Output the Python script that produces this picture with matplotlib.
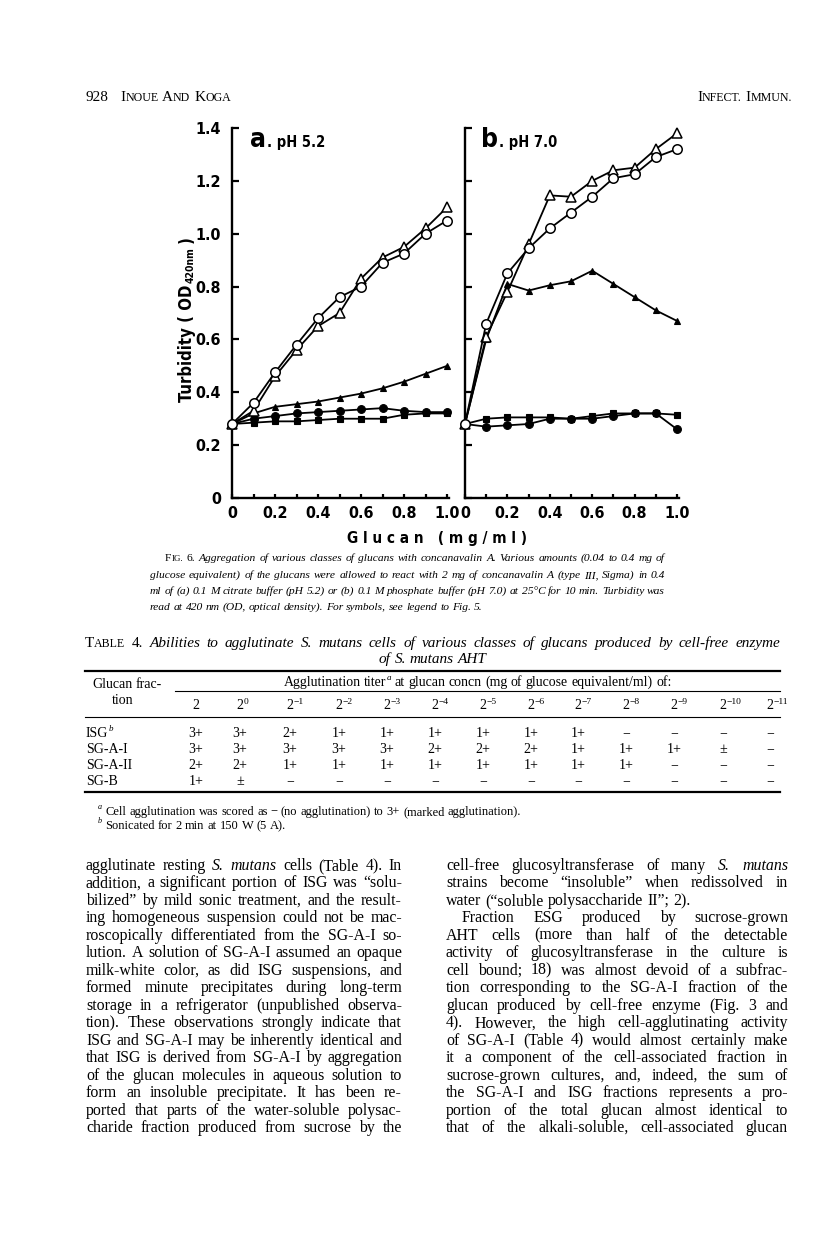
import re
import matplotlib
matplotlib.use("Agg")
import matplotlib.pyplot as plt

# ---------------- data ----------------
glucan = [0.0, 0.1, 0.2, 0.3, 0.4, 0.5, 0.6, 0.7, 0.8, 0.9, 1.0]

# panel a, pH 5.2
a_open_circle = [0.28, 0.36, 0.475, 0.58, 0.68, 0.76, 0.80, 0.89, 0.925, 1.00, 1.05]
a_open_tri = [0.28, 0.33, 0.46, 0.56, 0.65, 0.70, 0.83, 0.91, 0.95, 1.02, 1.10]
a_filled_tri = [0.28, 0.32, 0.345, 0.355, 0.365, 0.38, 0.395, 0.415, 0.44, 0.47, 0.50]
a_filled_circle = [0.28, 0.30, 0.31, 0.32, 0.325, 0.33, 0.335, 0.34, 0.33, 0.325, 0.325]
a_filled_square = [0.28, 0.285, 0.29, 0.29, 0.295, 0.30, 0.30, 0.30, 0.315, 0.32, 0.32]

# panel b, pH 7.0
b_open_circle = [0.28, 0.66, 0.85, 0.945, 1.02, 1.08, 1.14, 1.21, 1.225, 1.29, 1.32]
b_open_tri = [0.28, 0.61, 0.78, 0.96, 1.145, 1.14, 1.20, 1.24, 1.25, 1.32, 1.38]
b_filled_tri = [0.28, 0.60, 0.81, 0.785, 0.805, 0.82, 0.86, 0.81, 0.76, 0.71, 0.67]
b_filled_circle = [0.28, 0.27, 0.275, 0.28, 0.30, 0.30, 0.30, 0.31, 0.32, 0.32, 0.26]
b_filled_square = [0.28, 0.30, 0.305, 0.305, 0.305, 0.30, 0.31, 0.32, 0.32, 0.32, 0.315]

y_ticks = [0, 0.2, 0.4, 0.6, 0.8, 1.0, 1.2, 1.4]
y_ticklabels = ["0", "0.2", "0.4", "0.6", "0.8", "1.0", "1.2", "1.4"]
x_ticks = [0, 0.2, 0.4, 0.6, 0.8, 1.0]
x_ticklabels = ["0", "0.2", "0.4", "0.6", "0.8", "1.0"]
x_minor = [0.1, 0.3, 0.5, 0.7, 0.9]

# table 4
table_columns = ["", "0", "−1", "−2", "−3", "−4", "−5", "−6", "−7", "−8", "−9", "−10", "−11"]
table_rows = ["ISG", "SG-A-I", "SG-A-II", "SG-B"]
table_row_sup = ["b", "", "", ""]
table_values = [
    ["3+", "3+", "2+", "1+", "1+", "1+", "1+", "1+", "1+", "−", "−", "−", "−"],
    ["3+", "3+", "3+", "3+", "3+", "2+", "2+", "2+", "1+", "1+", "1+", "±", "−"],
    ["2+", "2+", "1+", "1+", "1+", "1+", "1+", "1+", "1+", "1+", "−", "−", "−"],
    ["1+", "±", "−", "−", "−", "−", "−", "−", "−", "−", "−", "−", "−"],
]

caption_lines = [
    "~FIG.~ #6.# Aggregation of various classes of glucans with concanavalin A. Various amounts (0.04 to 0.4 mg of",
    "glucose equivalent) of the glucans were allowed to react with 2 mg of concanavalin A (type III, Sigma) in 0.4",
    "ml of (a) 0.1 M citrate buffer (pH 5.2) or (b) 0.1 M phosphate buffer (pH 7.0) at 25°C for 10 min. Turbidity was",
    "read at 420 nm (OD, optical density). For symbols, see legend to Fig. 5.",
]
table_title_lines = [
    "~TABLE~ #4.# Abilities to agglutinate S. mutans cells of various classes of glucans produced by cell-free enzyme",
    "of S. mutans AHT",
]
footnotes = [
    "^a^ Cell agglutination was scored as − (no agglutination) to 3+ (marked agglutination).",
    "^b^ Sonicated for 2 min at 150 W (5 A).",
]
left_col = [
    "agglutinate resting *S.* *mutans* cells (Table 4). In",
    "addition, a significant portion of ISG was “solu-",
    "bilized” by mild sonic treatment, and the result-",
    "ing homogeneous suspension could not be mac-",
    "roscopically differentiated from the SG-A-I so-",
    "lution. A solution of SG-A-I assumed an opaque",
    "milk-white color, as did ISG suspensions, and",
    "formed minute precipitates during long-term",
    "storage in a refrigerator (unpublished observa-",
    "tion). These observations strongly indicate that",
    "ISG and SG-A-I may be inherently identical and",
    "that ISG is derived from SG-A-I by aggregation",
    "of the glucan molecules in aqueous solution to",
    "form an insoluble precipitate. It has been re-",
    "ported that parts of the water-soluble polysac-",
    "charide fraction produced from sucrose by the",
]
right_col = [
    "cell-free glucosyltransferase of many *S.* *mutans*",
    "strains become “insoluble” when redissolved in",
    "water (“soluble polysaccharide II”; 2).",
    "Fraction ESG produced by sucrose-grown",
    "AHT cells (more than half of the detectable",
    "activity of glucosyltransferase in the culture is",
    "cell bound; 18) was almost devoid of a subfrac-",
    "tion corresponding to the SG-A-I fraction of the",
    "glucan produced by cell-free enzyme (Fig. 3 and",
    "4). However, the high cell-agglutinating activity",
    "of SG-A-I (Table 4) would almost certainly make",
    "it a component of the cell-associated fraction in",
    "sucrose-grown cultures, and, indeed, the sum of",
    "the SG-A-I and ISG fractions represents a pro-",
    "portion of the total glucan almost identical to",
    "that of the alkali-soluble, cell-associated glucan",
]

# ---------------- figure ----------------
W, H = 816, 1249
fig = plt.figure(figsize=(W / 100, H / 100), dpi=100)
fig.patch.set_facecolor("white")
renderer = fig.canvas.get_renderer()

CHART_FONT = ["DejaVu Sans"]
CHART_KW = dict(family=CHART_FONT, weight="bold", stretch="condensed")
SERIF = ["Liberation Serif", "DejaVu Serif"]


def fx(x):
    return x / W


def fy(y):
    return 1 - y / H


# ---------- text helpers ----------
def parse(line, default):
    """Return list of words; each word is a list of (text, style)."""
    words = []
    for w in line.split(" "):
        segs = []
        for part in re.split(r"(\*[^*]+\*|#[^#]+#|~[^~]+~|\^[^^]+\^)", w):
            if not part:
                continue
            if part.startswith("*"):
                segs.append((part[1:-1], "i" if default == "n" else "n"))
            elif part.startswith("#"):
                segs.append((part[1:-1], "n"))
            elif part.startswith("~"):
                segs.append((part[1:-1], "sc"))
            elif part.startswith("^"):
                segs.append((part[1:-1], "sup"))
            else:
                segs.append((part, default))
        words.append(segs)
    return words


def make_word(segs, size, family):
    arts = []
    for text, style in segs:
        if style == "sc":
            arts.append((fig.text(0, 0, text[0], size=size, family=family), 0))
            arts.append((fig.text(0, 0, text[1:].upper(), size=size * 0.78, family=family), 0))
        elif style == "sup":
            arts.append((fig.text(0, 0, text, size=size * 0.65, family=family, style="italic"), size * 0.45))
        else:
            arts.append((fig.text(0, 0, text, size=size, family=family,
                                  style="italic" if style == "i" else "normal"), 0))
    widths = [a.get_window_extent(renderer).width for a, _ in arts]
    return arts, widths


def word_width(segs, size, family):
    arts, widths = make_word(segs, size, family)
    for a, _ in arts:
        a.remove()
    return sum(widths)


def space_width(size):
    return size * 100 / 72 * 0.25


def fit_size(lines, default, width, family, base=10.0, maxsize=11.0):
    best = 0
    for line in lines:
        words = parse(line, default)
        tot = sum(word_width(w, base, family) for w in words) + space_width(base) * (len(words) - 1)
        best = max(best, tot)
    return min(maxsize, base * width / best * 0.995)


def draw_line(line, default, x0, x1, y, size, family, justify=True, indent=0, center=False):
    words = parse(line, default)
    built = [make_word(w, size, family) for w in words]
    total = sum(sum(ws) for _, ws in built)
    sp = space_width(size)
    x0 = x0 + indent
    if justify and len(words) > 1:
        gap = (x1 - x0 - total) / (len(words) - 1)
    else:
        gap = sp
    if center:
        linew = total + gap * (len(words) - 1)
        x = (x0 + x1) / 2 - linew / 2
    else:
        x = x0
    for arts, ws in built:
        for (a, dy), w in zip(arts, ws):
            a.set_position((fx(x), fy(y - dy * 100 / 72)))
            a.set_verticalalignment("baseline")
            x += w
        x += gap


# ---------------- header ----------------
fig.text(fx(86), fy(101), "928", size=11, family=SERIF, va="baseline")
draw_line("~INOUE~ ~AND~ ~KOGA~", "n", 120, 240, 101, 11, SERIF, justify=False)
draw_line("~INFECT.~ ~IMMUN.~", "n", 697, 790, 101, 11, SERIF, justify=False)

# ---------------- chart ----------------
axa = fig.add_axes([fx(232), fy(498), (449 - 232) / W, (498 - 128) / H])
axb = fig.add_axes([fx(465), fy(498), (679 - 465) / W, (498 - 128) / H])

series = [
    ("open_circle", dict(marker="o", mfc="white", mec="black", ms=6.8, mew=1.1)),
    ("open_tri", dict(marker="^", mfc="white", mec="black", ms=6.5, mew=1.1)),
    ("filled_tri", dict(marker="^", mfc="black", mec="black", ms=5.0, mew=0.8)),
    ("filled_circle", dict(marker="o", mfc="black", mec="black", ms=5.6, mew=0.8)),
    ("filled_square", dict(marker="s", mfc="black", mec="black", ms=4.6, mew=0.8)),
]
data_a = dict(open_circle=a_open_circle, open_tri=a_open_tri, filled_tri=a_filled_tri,
              filled_circle=a_filled_circle, filled_square=a_filled_square)
data_b = dict(open_circle=b_open_circle, open_tri=b_open_tri, filled_tri=b_filled_tri,
              filled_circle=b_filled_circle, filled_square=b_filled_square)

for ax, data, show_y in ((axa, data_a, True), (axb, data_b, False)):
    for key, style in reversed(series):
        ax.plot(glucan, data[key], color="black", lw=1.3, clip_on=False, zorder=3, **style)
    ax.set_xlim(0, 1.0093)
    ax.set_ylim(0, 1.4)
    ax.set_facecolor("none")
    for s in ("top", "right"):
        ax.spines[s].set_visible(False)
    for s in ("left", "bottom"):
        ax.spines[s].set_linewidth(1.7)
    ax.set_yticks(y_ticks)
    ax.set_yticklabels(y_ticklabels if show_y else [])
    ax.set_xticks(x_ticks)
    ax.set_xticklabels(x_ticklabels)
    ax.set_xticks(x_minor, minor=True)
    ax.tick_params(axis="y", direction="in", length=5, width=1.6, pad=8)
    ax.tick_params(axis="x", which="both", direction="in", length=3, width=1.6, pad=6)
    for lab in ax.get_xticklabels() + ax.get_yticklabels():
        lab.set_family(CHART_FONT)
        lab.set_fontweight("bold")
        lab.set_fontstretch("condensed")
        lab.set_fontsize(11.5)

# panel titles
for (x, letter, rest) in ((250, "a", ". pH 5.2"), (481, "b", ". pH 7.0")):
    t1 = fig.text(fx(x), fy(147), letter, size=19, va="baseline", **CHART_KW)
    w = t1.get_window_extent(renderer).width
    fig.text(fx(x + w + 1), fy(147), rest, size=10.5, va="baseline", **CHART_KW)

# y label (rotated, built from pieces)
ybot = 402
t1 = fig.text(fx(187), fy(ybot), "Turbidity ( OD", size=12, rotation=90, ha="center", va="bottom",
              **CHART_KW)
h1 = t1.get_window_extent(renderer).height
t2 = fig.text(fx(191), fy(ybot - h1 - 2), "420nm", size=7.5, rotation=90, ha="center", va="bottom",
              **CHART_KW)
h2 = t2.get_window_extent(renderer).height
fig.text(fx(187), fy(ybot - h1 - h2 - 6), ")", size=12, rotation=90, ha="center", va="bottom",
         **CHART_KW)

# x label
fig.text(fx(437), fy(538), "G l u c a n   ( m g / m l )", size=11, ha="center", va="center",
         **CHART_KW)

# ---------------- caption ----------------
cap_size = fit_size(caption_lines[1:3], "i", 515, SERIF, base=10, maxsize=10.5)
cap_y = [561, 578, 594, 610]
for i, line in enumerate(caption_lines):
    draw_line(line, "i", 150, 665, cap_y[i], cap_size, SERIF,
              justify=(i < 3), indent=(15 if i == 0 else 0))

# ---------------- table ----------------
tt_size = fit_size(table_title_lines[:1], "i", 695, SERIF, base=10, maxsize=11)
draw_line(table_title_lines[0], "i", 85, 780, 647, tt_size, SERIF, justify=True)
draw_line(table_title_lines[1], "i", 85, 780, 663, tt_size, SERIF, justify=False, center=True)


def hline(y, x0, x1, lw):
    fig.add_artist(plt.Line2D([fx(x0), fx(x1)], [fy(y), fy(y)], color="black", lw=lw,
                              transform=fig.transFigure))


hline(671, 85, 780, 1.6)
hline(691, 175, 780, 0.8)
hline(717, 85, 780, 0.8)
hline(792, 85, 780, 1.6)

tsize = 10
draw_line("Glucan frac-", "n", 92, 200, 688, tsize, SERIF, justify=False)
draw_line("tion", "n", 112, 200, 704, tsize, SERIF, justify=False)
draw_line("Agglutination titer^a^ at glucan concn (mg of glucose equivalent/ml) of:", "n",
          175, 780, 686, tsize, SERIF, justify=False, center=True)

col_x = [196, 240, 290, 339, 387, 435, 483, 531, 578, 626, 674, 723, 770]
for cx, sup in zip(col_x, table_columns):
    b = fig.text(fx(cx), fy(709), "2", size=tsize, family=SERIF, va="baseline", ha="center")
    if sup:
        bw = b.get_window_extent(renderer).width
        fig.text(fx(cx + bw / 2 + 0.5), fy(704), sup, size=6.8, family=SERIF, va="baseline", ha="left")

row_y = [737, 753, 769, 785]
for ry, lab, sup, vals in zip(row_y, table_rows, table_row_sup, table_values):
    draw_line(lab + ("^" + sup + "^" if sup else ""), "n", 86, 200, ry, tsize, SERIF, justify=False)
    for cx, v in zip(col_x, vals):
        fig.text(fx(cx), fy(ry), v, size=tsize, family=SERIF, va="baseline", ha="center")

draw_line(footnotes[0], "n", 98, 780, 815, 9, SERIF, justify=False)
draw_line(footnotes[1], "n", 98, 780, 829, 9, SERIF, justify=False)

# ---------------- body text ----------------
body_size = fit_size(left_col + right_col, "n", 316, SERIF, base=10, maxsize=11.5)
line_gap = (1128 - 866) / 15
for i, line in enumerate(left_col):
    draw_line(line, "n", 86, 402, 870 + i * line_gap, body_size, SERIF, justify=True)
for i, line in enumerate(right_col):
    just = i != 2
    indent = 16 if i == 3 else 0
    draw_line(line, "n", 446, 788, 870 + i * line_gap, body_size, SERIF, justify=just, indent=indent)

fig.savefig("out.png", dpi=100)
